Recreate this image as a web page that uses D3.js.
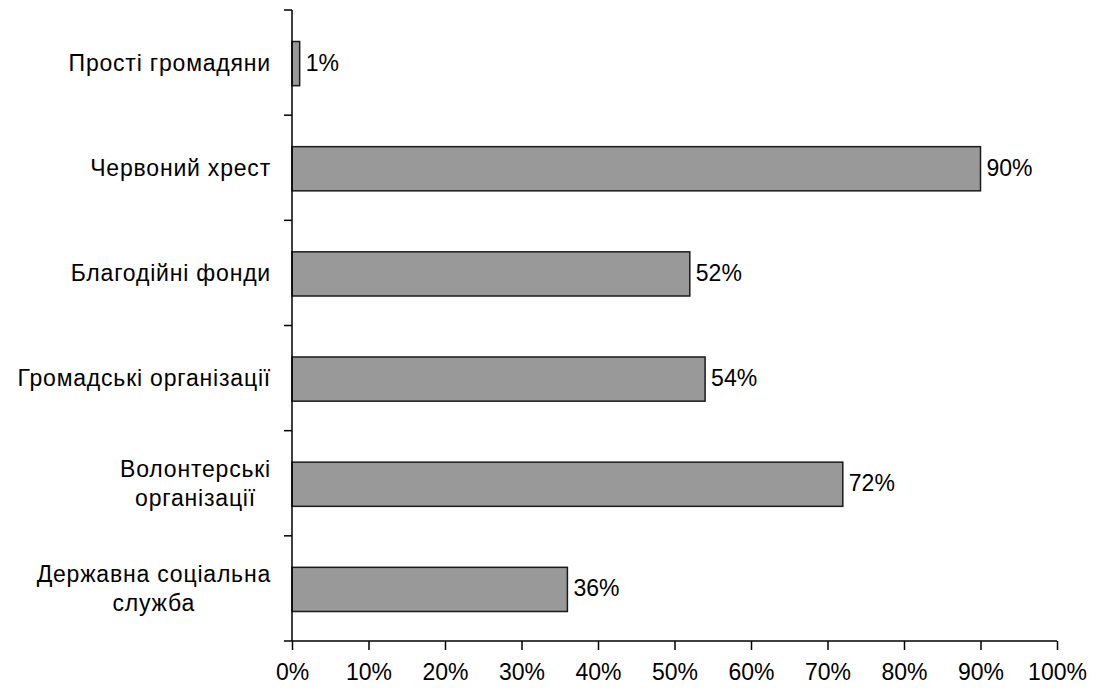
<!DOCTYPE html>
<html>
<head>
<meta charset="utf-8">
<script src="https://cdn.jsdelivr.net/npm/d3@7"></script>
<style>
  body { margin: 0; background: #fff; }
  text { font-family: "Liberation Sans", Arial, sans-serif; font-size: 23px; fill: #000; }
  text.cat { letter-spacing: 0.8px; }
</style>
</head>
<body>
<script>
// categories top to bottom, each one split into its label lines
var categories = ["Прості громадяни", "Червоний хрест", "Благодійні фонди",
                  "Громадські організації", "Волонтерські організації", "Державна соціальна служба"];
var labelLines = [["Прості громадяни"], ["Червоний хрест"], ["Благодійні фонди"],
                  ["Громадські організації"], ["Волонтерські", "організації"], ["Державна соціальна", "служба"]];
var values = [1, 90, 52, 54, 72, 36];
var xTicks = [0, 10, 20, 30, 40, 50, 60, 70, 80, 90, 100];

var w = 1094, h = 693,
    mLeft = 292, mRight = 1057,
    mTop = 10, mBottom = 641;

var svg = d3.select("body").append("svg")
    .attr("width", w)
    .attr("height", h);

var x = d3.scaleLinear().domain([0, 100]).range([mLeft, mRight]);
var yBand = d3.scaleBand().domain(categories).range([mTop, mBottom]);
var barH = yBand.bandwidth() * 0.42;

// bars
svg.selectAll("rect.bar").data(values).enter().append("rect")
    .attr("class", "bar")
    .attr("x", x(0))
    .attr("y", function(d, i){ return yBand(categories[i]) + (yBand.bandwidth() - barH)/2 + 1; })
    .attr("width", function(d){ return x(d) - x(0); })
    .attr("height", barH)
    .style("fill", "#999999")
    .style("stroke", "#1a1a1a")
    .style("stroke-width", 1.5);

// value labels
svg.selectAll("text.val").data(values).enter().append("text")
    .attr("class", "val")
    .attr("x", function(d){ return x(d) + 6; })
    .attr("y", function(d, i){ return yBand(categories[i]) + yBand.bandwidth()/2; })
    .attr("dy", "0.35em")
    .text(function(d){ return d + "%"; });

// y axis line + ticks at band edges
var axisCol = "#000";
svg.append("line")
    .attr("x1", mLeft).attr("x2", mLeft)
    .attr("y1", mTop).attr("y2", mBottom)
    .style("stroke", axisCol).style("stroke-width", 1.5);
var edges = categories.map(function(c){ return yBand(c); }).concat([mBottom]);
svg.selectAll("line.ytick").data(edges).enter().append("line")
    .attr("class", "ytick")
    .attr("x1", mLeft - 8).attr("x2", mLeft)
    .attr("y1", function(d){ return d; }).attr("y2", function(d){ return d; })
    .style("stroke", axisCol).style("stroke-width", 1.5);

// x axis
var xAxis = svg.append("g")
    .attr("transform", "translate(0," + mBottom + ")")
    .call(d3.axisBottom(x).tickValues(xTicks).tickSize(9).tickPadding(14)
        .tickFormat(function(d){ return d + "%"; }));
xAxis.select(".domain").style("stroke", axisCol).style("stroke-width", 1.5)
    .attr("d", "M" + mLeft + ",0H" + mRight);
xAxis.selectAll(".tick line").style("stroke", axisCol).style("stroke-width", 1.5);
xAxis.selectAll("text").style("font-family", "'Liberation Sans', Arial, sans-serif")
    .style("font-size", "23px").style("fill", "#000");

// category labels: block right-aligned, lines centred within the block
var labelRight = 271, lineGap = 29;
labelLines.forEach(function(lines, i){
    var g = svg.append("g");
    var cy = yBand(categories[i]) + yBand.bandwidth()/2;
    var texts = lines.map(function(t, j){
        return g.append("text")
            .attr("class", "cat")
            .attr("y", cy + (j - (lines.length - 1)/2) * lineGap)
            .attr("dy", "0.35em")
            .attr("text-anchor", "middle")
            .text(t);
    });
    var maxW = d3.max(texts, function(t){ return t.node().getComputedTextLength(); });
    texts.forEach(function(t){ t.attr("x", labelRight - maxW/2); });
});
</script>
</body>
</html>
